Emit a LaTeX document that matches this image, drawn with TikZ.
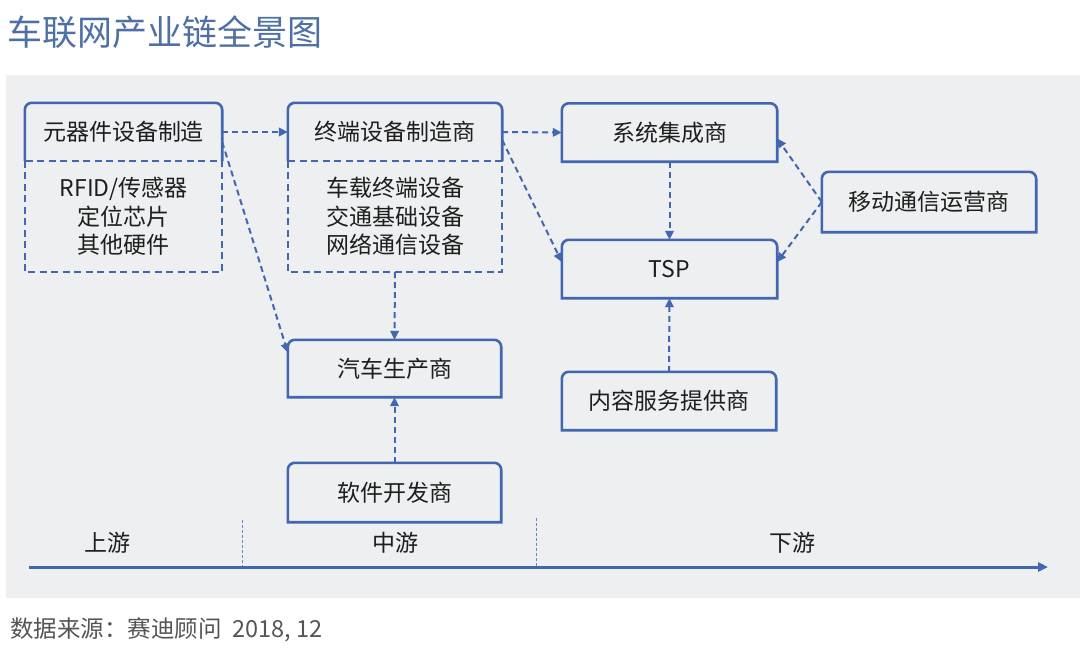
\documentclass[tikz,border=0pt]{standalone}
\usepackage{fontspec}
\setmainfont{Noto Sans CJK SC}
\usetikzlibrary{arrows.meta,calc}
\definecolor{boxblue}{RGB}{66,102,176}
\definecolor{titleblue}{RGB}{78,112,165}
\definecolor{panelgray}{RGB}{237,239,241}
\definecolor{srcgray}{RGB}{85,85,85}
\definecolor{txt}{RGB}{30,30,30}
\tikzset{
  boxline/.style={draw=boxblue,line width=2.6pt},
  subline/.style={draw=boxblue,line width=2.4pt,dash pattern=on 7pt off 4.5pt},
  boxnode/.style={inner sep=0pt,anchor=center,font=\fontsize{23}{27}\selectfont,text=txt},
  subnode/.style={inner sep=0pt,anchor=center,align=center,font=\fontsize{23}{28.5}\selectfont,text=txt},
  arr/.style={draw=boxblue,line width=2pt,dash pattern=on 6pt off 4pt,-{Triangle[length=9pt,width=8.5pt]}},
  axisline/.style={draw=boxblue,line width=3pt,-{Triangle[length=10pt,width=9pt]}},
  divider/.style={draw=boxblue!80,line width=0.7pt,dash pattern=on 3pt off 2pt},
  axlabel/.style={inner sep=0pt,anchor=center,font=\fontsize{23}{27}\selectfont,text=txt},
}
\newcommand\rtopclosed[1]{\draw[boxline] (#1.south west) -- ([yshift=-7pt]#1.north west) arc[start angle=180,end angle=90,radius=7pt] -- ([xshift=-7pt]#1.north east) arc[start angle=90,end angle=0,radius=7pt] -- (#1.south east) -- cycle;}
\newcommand\rtopopen[1]{\draw[boxline] (#1.south west) -- ([yshift=-7pt]#1.north west) arc[start angle=180,end angle=90,radius=7pt] -- ([xshift=-7pt]#1.north east) arc[start angle=90,end angle=0,radius=7pt] -- (#1.south east);}
\begin{document}
\begin{tikzpicture}[x=1pt,y=-1pt]
\useasboundingbox (0,0) rectangle (1080,649);
\fill[white] (0,0) rectangle (1080,649);
\fill[panelgray] (6,75) rectangle (1080,598);
% title and source
\node[anchor=west,inner sep=0pt,font=\fontsize{35}{40}\selectfont,text=titleblue] (title) at (7,32) {车联网产业链全景图};
\node[anchor=west,inner sep=0pt,font=\fontsize{23.5}{28}\selectfont,text=srcgray] (src) at (10,630) {数据来源：赛迪顾问\ \ 2018,\ 12};
% upstream
\node[boxnode,minimum width=197pt,minimum height=58pt] (yq) at (123.5,132) {元器件设备制造};
\node[subnode,minimum width=197pt,minimum height=111pt] (yqs) at (123.5,216.5) {RFID/传感器\\定位芯片\\其他硬件};
% midstream
\node[boxnode,minimum width=214pt,minimum height=58pt] (zd) at (395,132) {终端设备制造商};
\node[subnode,minimum width=214pt,minimum height=111pt] (zds) at (395,216.5) {车载终端设备\\交通基础设备\\网络通信设备};
\node[boxnode,minimum width=213pt,minimum height=57pt] (qc) at (394.5,368.5) {汽车生产商};
\node[boxnode,minimum width=213pt,minimum height=59pt] (rj) at (394.5,492.5) {软件开发商};
% downstream
\node[boxnode,minimum width=215pt,minimum height=58pt] (xt) at (669.5,132.5) {系统集成商};
\node[boxnode,minimum width=215pt,minimum height=58pt] (tsp) at (669.5,269) {TSP};
\node[boxnode,minimum width=214pt,minimum height=58pt] (nr) at (669,401) {内容服务提供商};
\node[boxnode,minimum width=214pt,minimum height=60pt] (yd) at (929,202) {移动通信运营商};
% outlines
\rtopopen{yq}
\rtopopen{zd}
\draw[subline] (yqs.north west) rectangle (yqs.south east);
\draw[subline] (zds.north west) rectangle (zds.south east);
\rtopclosed{qc}
\rtopclosed{rj}
\rtopclosed{xt}
\rtopclosed{tsp}
\rtopclosed{nr}
\rtopclosed{yd}
% connectors
\draw[arr] (yq.east) -- (zd.west);
\draw[arr] ([yshift=-10pt]yq.east) -- ([yshift=16pt]qc.west);
\draw[arr] (zd.east) -- (xt.west);
\draw[arr] ([yshift=-8pt]zd.east) -- ([yshift=7pt]tsp.west);
\draw[arr] (zds.south) -- (qc.north);
\draw[arr] (rj.north) -- (qc.south);
\draw[arr] (xt.south) -- (tsp.north);
\draw[arr] (nr.north) -- (tsp.south);
\draw[arr] (yd.west) -- ([yshift=-6pt]xt.east);
\draw[arr] (yd.west) -- ([yshift=7pt]tsp.east);
% axis
\coordinate (ax0) at (29,567);
\coordinate (ax1) at (1048,567);
\coordinate (d1t) at (242,520);
\coordinate (d1b) at (242,567);
\coordinate (d2t) at (536,518);
\coordinate (d2b) at (536,567);
\draw[divider] (d1t) -- (d1b);
\draw[divider] (d2t) -- (d2b);
\draw[axisline] (ax0) -- (ax1);
\node[axlabel] (up) at (107,543) {上游};
\node[axlabel] (mid) at (395,543) {中游};
\node[axlabel] (down) at (792,543) {下游};
\end{tikzpicture}
\end{document}
